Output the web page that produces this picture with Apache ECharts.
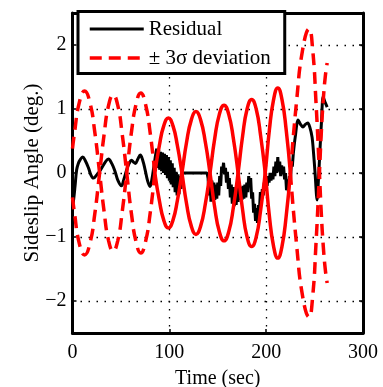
<!DOCTYPE html>
<html><head><meta charset="utf-8">
<script src="https://cdn.jsdelivr.net/npm/echarts@6/dist/echarts.min.js"></script>
<style>html,body{margin:0;padding:0;background:#fff}#c{width:383px;height:387px}</style>
</head><body><div id="c"></div>
<script>
// ---- data ----
const xTicks = [0, 100, 200, 300];
const yTicks = [-2, -1, 0, 1, 2];
const seriesNames = ['Residual', '\u00b1 3\u03c3 deviation'];

// Residual: smooth early part
const resStart = [[0,-0.55],[1.3,-0.4],[2.6,-0.21],[4.3,0.05],[6,0.15],[8,0.21],[10.5,0.25],[13,0.2],[16.5,0.08],[19,-0.03],[21.6,-0.08],[25,-0.03],[29,0.05],[33,0.15],[37,0.22],[40.5,0.15],[44,0.02],[47,-0.12],[50.5,-0.2],[53,-0.1],[56,0.05],[58.5,0.15],[61,0.2],[63,0.17],[65,0.15],[67.5,0.22],[70,0.28],[72.5,0.2],[75,0.05],[77.5,-0.12],[80,-0.21],[82,-0.1],[84,0.1],[86,0.3],[87,0.38]];
// Residual: noisy middle part (incl. flat stretch)
const resNoisy = [[87,0.38],[88,0.08],[89,0.36],[90,0.05],[91,0.33],[92,0.03],[93,0.32],[94,0.0],[95,0.3],[96,-0.03],[97,0.28],[98,-0.08],[99,0.25],[100,-0.12],[101,0.2],[102,-0.18],[103,0.15],[104,-0.22],[105,0.08],[106,-0.3],[107,0.02],[108,-0.35],[109,-0.02],[110,-0.33],[111,-0.05],[112,-0.25],[113,0.0],[139,0.0],
[140,-0.08],[141,-0.35],[142,-0.1],[143,-0.45],[144,-0.12],[145,-0.4],[146,-0.15],[147,-0.42],[148,-0.18],[149,-0.4],[150,-0.15],[151,-0.35],[152,-0.05],[153,-0.2],[154,0.1],[155,0.02],[156,0.16],[157,-0.02],[158,0.08],[159,-0.15],[160,0.02],[161,-0.25],[162,-0.08],[163,-0.38],[164,-0.18],[165,-0.48],[166,-0.22],[167,-0.52],[168,-0.25],[169,-0.5],[170,-0.22],[171,-0.45],[172,-0.2],[173,-0.42],[174,-0.22],[175,-0.42],[176,-0.2],[177,-0.4],[178,-0.18],[179,-0.38],[180,-0.15],[181,-0.3],[182,-0.05],[183,-0.2],[184,-0.08],[185,-0.4],[186,-0.3],[187,-0.62],[188,-0.48],[189,-0.75],[190,-0.55],[191,-0.78],[192,-0.5],[193,-0.6],[194,-0.3],[195,-0.45],[196,-0.25],[197,-0.35],[198,-0.15],[199,-0.28],[200,-0.1],[201,-0.2],[202,-0.05],[203,-0.15],[204,0.0],[205,-0.12],[206,0.0],[207,-0.1],[208,0.1],[209,-0.05],[210,0.18],[211,0.0],[212,0.25],[213,0.02],[214,0.18],[215,-0.05],[216,0.12],[217,-0.02],[218,0.1],[219,-0.1],[220,0.0],[221,-0.27],[222,-0.1],[223,-0.3],[224,-0.05],[225,-0.15],[226,0.16],[227,0.1],[228,0.3]];
// Residual: smooth final part
const resEnd = [[228,0.3],[230,0.56],[233,0.83],[235.5,0.76],[238,0.72],[240.5,0.76],[243,0.78],[245,0.72],[247.4,0.56],[249,0.3],[250.5,0.0],[252.6,-0.42],[254,-0.1],[255.7,0.4],[257.3,0.85],[258.8,1.19],[261,1.1],[263,1.03]];

// 3-sigma curve (upper branch; lower branch is its negative)
const sigma3 = [[0,0.38],[2,0.62],[7,1.1],[12.5,1.28],[18,1.1],[23,0.64],[28,0],
[32.7,-0.61],[37.3,-1.06],[42,-1.22],[46.7,-1.06],[51.3,-0.61],[56,0],
[60.8,0.63],[65.7,1.08],[70.5,1.25],[75.3,1.08],[80.2,0.63],[85,0],
[89.7,-0.43],[94.3,-0.74],[99,-0.86],[103.7,-0.74],[108.3,-0.43],[113,0],
[117.8,0.48],[122.7,0.83],[127.5,0.96],[132.3,0.83],[137.2,0.48],[142,0],
[146.8,-0.53],[151.7,-0.92],[156.5,-1.06],[161.3,-0.92],[166.2,-0.53],[171,0],
[175.7,0.58],[180.3,1.0],[185,1.15],[189.7,1.0],[194.3,0.58],[199,0],
[203.3,-0.67],[207.7,-1.15],[212,-1.33],[216.3,-1.15],[220.7,-0.67],[225,0],
[231.4,1.12],[237.9,1.95],[244.3,2.25],[247.9,1.95],[251.4,1.12],[255,0],
[257,-0.65],[259,-1.15],[261,-1.5],[263,-1.72]];
// time span where the sigma trace is densely sampled (renders solid)
const denseSpan = [85, 225];

// ---- chart ----
const FONT = 'Liberation Serif';
const neg = d => d.map(p => [p[0], -p[1]]);
const sStart = sigma3.filter(p => p[0] <= denseSpan[0]);
const sMid = sigma3.filter(p => p[0] >= denseSpan[0] && p[0] <= denseSpan[1]);
const sEnd = sigma3.filter(p => p[0] >= denseSpan[1]);

const blackLine = {color:'#000', width:3};
const redDash = {color:'#ff0000', width:3.5, type:[12,7]};
const redSolid = {color:'#ff0000', width:3.5, type:'solid'};
function line(name, data, ls, smooth){
  return {type:'line', name, data, showSymbol:false, symbol:'none', smooth, lineStyle:ls, itemStyle:{color:ls.color}, silent:true, z:2};
}
const fmt = v => (v < 0 ? '\u2212' + Math.abs(v) : String(v));
const axisLineStyle = {color:'#000', width:3};
const dotted = {color:'#000', width:1.3, type:[1.5,6.5]};

const chart = echarts.init(document.getElementById('c'), null, {renderer:'canvas'});
chart.setOption({
  animation:false,
  backgroundColor:'#fff',
  grid:{left:72.5, right:20, top:13, bottom:54, containLabel:false, outerBoundsMode:'none'},
  legend:{
    data: [
      {name:seriesNames[0], lineStyle:{width:3}},
      {name:seriesNames[1], lineStyle:{width:3.5}}
    ],
    orient:'vertical', left:78, top:11.5,
    itemWidth:54, itemHeight:21, itemGap:8,
    padding:[7,14,5,10],
    borderColor:'#000', borderWidth:3, backgroundColor:'#fff',
    itemStyle:{opacity:0},
    textStyle:{fontFamily:FONT, fontSize:21, color:'#000'},
    z:10
  },
  xAxis:[
    {type:'value', min:xTicks[0], max:xTicks[xTicks.length-1], interval:100, position:'bottom',
     axisLine:{show:true, onZero:false, lineStyle:axisLineStyle},
     axisTick:{show:true, inside:true, length:4, lineStyle:{color:'#000', width:1.5}},
     axisLabel:{color:'#000', fontFamily:FONT, fontSize:20, margin:10},
     splitLine:{show:true, lineStyle:dotted},
     name:'Time (sec)', nameLocation:'middle', nameGap:36,
     nameTextStyle:{color:'#000', fontFamily:FONT, fontSize:20}},
    {type:'value', min:xTicks[0], max:xTicks[xTicks.length-1], interval:100, position:'top',
     axisLine:{show:true, onZero:false, lineStyle:axisLineStyle},
     axisTick:{show:true, inside:true, length:4, lineStyle:{color:'#000', width:1.5}},
     axisLabel:{show:false}, splitLine:{show:false}}
  ],
  yAxis:[
    {type:'value', min:-2.5, max:2.5, position:'left',
     axisLine:{show:true, onZero:false, lineStyle:axisLineStyle},
     axisTick:{show:true, inside:true, length:4, customValues:yTicks, lineStyle:{color:'#000', width:1.5}},
     axisLabel:{color:'#000', fontFamily:FONT, fontSize:20, margin:6, customValues:yTicks, formatter:fmt},
     splitLine:{show:true, lineStyle:dotted},
     name:'Sideslip Angle (deg.)', nameLocation:'middle', nameGap:30, nameMoveOverlap:false,
     nameTextStyle:{color:'#000', fontFamily:FONT, fontSize:21}},
    {type:'value', min:-2.5, max:2.5, position:'right',
     axisLine:{show:true, onZero:false, lineStyle:axisLineStyle},
     axisTick:{show:true, inside:true, length:4, customValues:yTicks, lineStyle:{color:'#000', width:1.5}},
     axisLabel:{show:false}, splitLine:{show:false}}
  ],
  series:[
    line(seriesNames[0], resStart, blackLine, 0.4),
    line(seriesNames[0], resNoisy, blackLine, false),
    line(seriesNames[0], resEnd, blackLine, 0.3),
    line(seriesNames[1], sStart, redDash, 0.5),
    line(seriesNames[1], neg(sStart), redDash, 0.5),
    line(seriesNames[1], sMid, redSolid, 0.5),
    line(seriesNames[1], neg(sMid), redSolid, 0.5),
    line(seriesNames[1], sEnd, redDash, 0.5),
    line(seriesNames[1], neg(sEnd), redDash, 0.5)
  ]
});
</script>
</body></html>
